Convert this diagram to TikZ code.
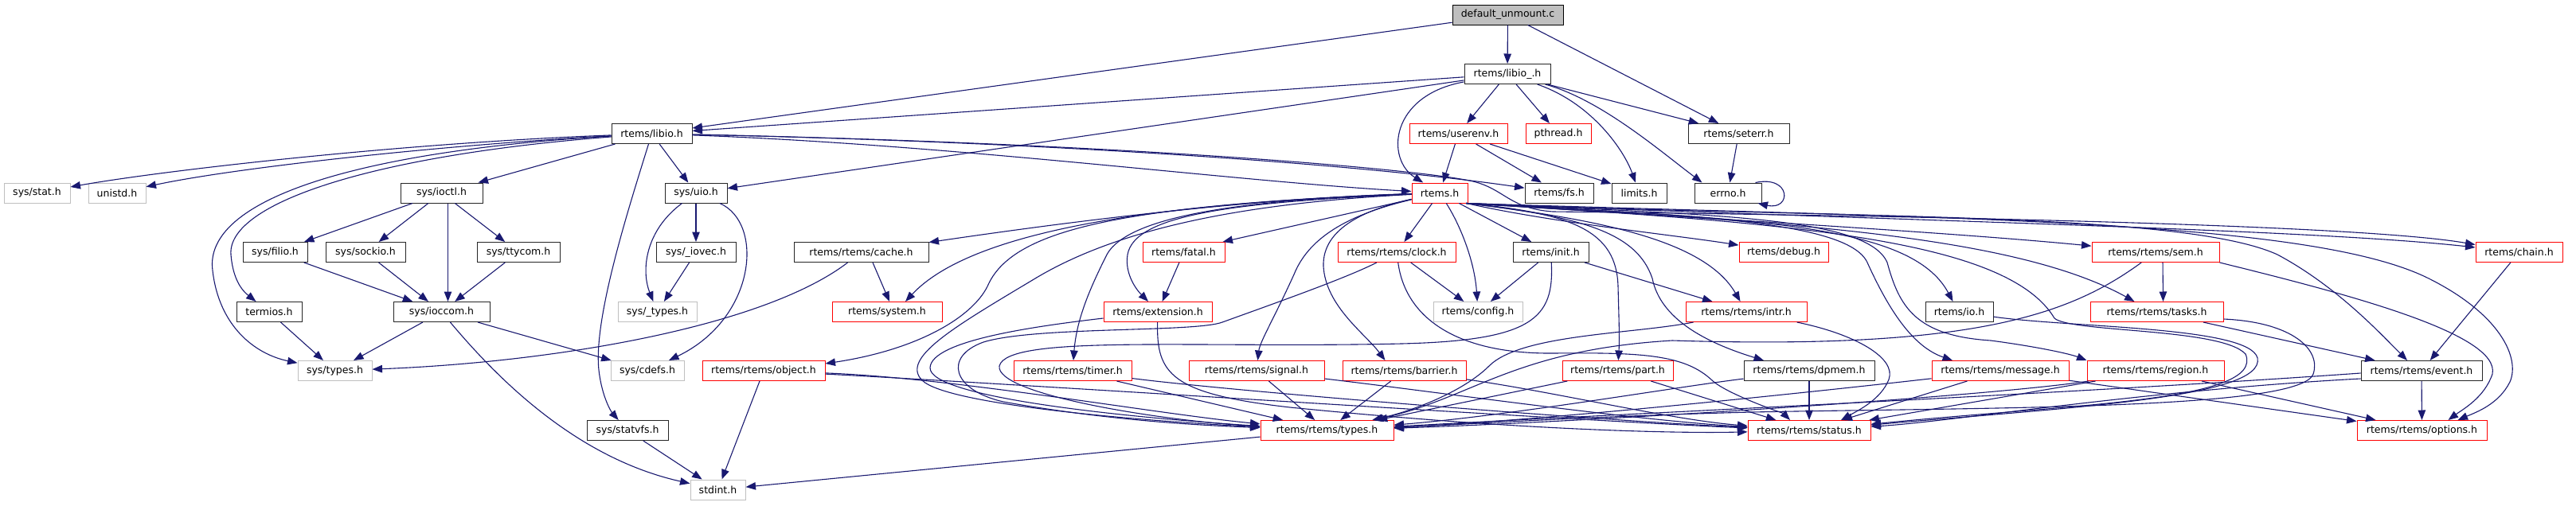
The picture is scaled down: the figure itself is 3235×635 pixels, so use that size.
\documentclass[tikz,border=0pt]{standalone}
\usepackage{fontspec}
\setmainfont{DejaVu Sans}
\usetikzlibrary{arrows.meta}
\definecolor{eblue}{HTML}{191970}
\definecolor{rred}{HTML}{FF0000}
\definecolor{ggray}{HTML}{BFBFBF}
\begin{document}
\begin{tikzpicture}[x=1pt,y=-1pt,
  nd/.style={rectangle, minimum height=25pt, inner xsep=8pt, inner ysep=0pt, line width=1pt, font=\fontsize{12.5}{15}\selectfont, text=black},
  blk/.style={nd, draw=black!85},
  rd/.style={nd, draw=rred},
  gr/.style={nd, draw=ggray},
  rootn/.style={nd, draw=black, fill=ggray},
  ed/.style={draw=eblue, line width=1.1pt, -{Triangle[length=12.5pt,width=9.5pt]}}
]
\useasboundingbox (0,0) rectangle (3235,635);
% row 0-2
\node[rootn, minimum width=139pt] (root) at (1893.5,18.5) {default\_unmount.c};
\node[blk, minimum width=108pt] (libiou) at (1893,93) {rtems/libio\_.h};
\node[blk, minimum width=101pt] (libio) at (818.5,168) {rtems/libio.h};
\node[rd, minimum width=123pt] (userenv) at (1831.5,168) {rtems/userenv.h};
\node[rd, minimum width=82pt] (pthread) at (1957,168) {pthread.h};
\node[blk, minimum width=127pt] (seterr) at (2183.5,168) {rtems/seterr.h};
% row 3
\node[gr, minimum width=83pt] (stat) at (46.5,242.5) {sys/stat.h};
\node[gr, minimum width=72pt] (unistd) at (147,242.5) {unistd.h};
\node[blk, minimum width=103pt] (ioctl) at (554.5,242.5) {sys/ioctl.h};
\node[blk, minimum width=78pt] (uio) at (874,242.5) {sys/uio.h};
\node[rd, minimum width=70pt] (rtemsh) at (1808,242.5) {rtems.h};
\node[blk, minimum width=86pt] (fs) at (1958,242.5) {rtems/fs.h};
\node[blk, minimum width=69pt] (limits) at (2058.5,242.5) {limits.h};
\node[blk, minimum width=84pt] (errno) at (2170,242.5) {errno.h};
% row 4
\node[blk, minimum width=81pt] (filio) at (345.5,317) {sys/filio.h};
\node[blk, minimum width=100pt] (sockio) at (459,317) {sys/sockio.h};
\node[blk, minimum width=104pt] (ttycom) at (651,317) {sys/ttycom.h};
\node[blk, minimum width=100pt] (iovec) at (874,317) {sys/\_iovec.h};
\node[blk, minimum width=169pt] (cache) at (1081.5,317) {rtems/rtems/cache.h};
\node[rd, minimum width=103pt] (fatal) at (1486.5,317) {rtems/fatal.h};
\node[rd, minimum width=148pt] (clock) at (1754,317) {rtems/rtems/clock.h};
\node[blk, minimum width=95pt] (init) at (1947.5,317) {rtems/init.h};
\node[rd, minimum width=112pt] (debug) at (2240,317) {rtems/debug.h};
\node[rd, minimum width=160pt] (sem) at (2707,317) {rtems/rtems/sem.h};
\node[rd, minimum width=109pt] (chain) at (3163.5,317) {rtems/chain.h};
% row 5
\node[blk, minimum width=82pt] (termios) at (338,392) {termios.h};
\node[blk, minimum width=121pt] (ioccom) at (554.5,392) {sys/ioccom.h};
\node[gr, minimum width=99pt] (stypes) at (825.5,392) {sys/\_types.h};
\node[rd, minimum width=138pt] (system) at (1114,392) {rtems/system.h};
\node[rd, minimum width=136pt] (extension) at (1454,392) {rtems/extension.h};
\node[gr, minimum width=112pt] (config) at (1856,392) {rtems/config.h};
\node[rd, minimum width=152pt] (intr) at (2193,392) {rtems/rtems/intr.h};
\node[blk, minimum width=85pt] (io) at (2460.5,392) {rtems/io.h};
\node[rd, minimum width=167pt] (tasks) at (2708.5,392) {rtems/rtems/tasks.h};
% row 6
\node[gr, minimum width=93pt] (systypes) at (420.5,466) {sys/types.h};
\node[gr, minimum width=92pt] (cdefs) at (813,466) {sys/cdefs.h};
\node[rd, minimum width=154pt] (object) at (959,466) {rtems/rtems/object.h};
\node[rd, minimum width=148pt] (timer) at (1347,466) {rtems/rtems/timer.h};
\node[rd, minimum width=170pt] (signal) at (1578,466) {rtems/rtems/signal.h};
\node[rd, minimum width=155pt] (barrier) at (1763.5,466) {rtems/rtems/barrier.h};
\node[rd, minimum width=139pt] (part) at (2031.5,466) {rtems/rtems/part.h};
\node[blk, minimum width=164pt] (dpmem) at (2272,466) {rtems/rtems/dpmem.h};
\node[rd, minimum width=172pt] (message) at (2512,466) {rtems/rtems/message.h};
\node[rd, minimum width=172pt] (region) at (2707,466) {rtems/rtems/region.h};
\node[blk, minimum width=152pt] (event) at (3041,466) {rtems/rtems/event.h};
% row 7-8
\node[blk, minimum width=102pt] (statvfs) at (788,541) {sys/statvfs.h};
\node[rd, minimum width=167pt] (rtypes) at (1666.5,541) {rtems/rtems/types.h};
\node[rd, minimum width=154pt] (status) at (2272,541) {rtems/rtems/status.h};
\node[rd, minimum width=163pt] (options) at (3041.5,541) {rtems/rtems/options.h};
\node[gr, minimum width=69pt] (stdint) at (901.5,615.5) {stdint.h};

% ---- edges ----
\draw[ed] (root) -- (libiou);
\draw[ed] (root) -- (libio);
\draw[ed] (root) -- (seterr);
\draw[ed] (libiou) -- (libio);
\draw[ed] (libiou) .. controls (1745,120) and (1740,200) .. (rtemsh);
\draw[ed] (libiou) -- (userenv);
\draw[ed] (libiou) -- (pthread);
\draw[ed] (libiou) .. controls (2000,130) and (2040,190) .. (limits);
\draw[ed] (libiou) .. controls (2010,125) and (2085,190) .. ([xshift=10pt]errno.north west);
\draw[ed] (libiou) -- (seterr);
\draw[ed] (libiou) -- (uio);
\draw[ed] (userenv) -- (rtemsh);
\draw[ed] (userenv) -- (fs);
\draw[ed] (userenv) -- (limits);
\draw[ed] (seterr) -- (errno);
\draw[ed] ([xshift=-8pt]errno.north east) .. controls (2250,220) and (2250,265) .. ([xshift=-5pt]errno.south east);
% libio
\draw[ed] (libio) .. controls (500,180) and (200,215) .. (stat);
\draw[ed] (libio) .. controls (560,182) and (300,210) .. (unistd);
\draw[ed] (libio) .. controls (450,190) and (255,250) .. (267,340) .. controls (275,410) and (320,445) .. (systypes);
\draw[ed] (libio) .. controls (470,195) and (285,255) .. (290,320) .. controls (292,345) and (300,362) .. (termios);
\draw[ed] (libio) -- (ioctl);
\draw[ed] (libio) .. controls (790,260) and (745,400) .. (752,465) .. controls (756,500) and (768,518) .. (statvfs);
\draw[ed] (libio) -- (uio);
\draw[ed] (libio) .. controls (1200,182) and (1550,228) .. (rtemsh);
\draw[ed] (libio) .. controls (1300,178) and (1700,205) .. (fs);
\draw[ed] (libio) .. controls (1400,180) and (1780,212) .. (1850,228) .. controls (1890,238) and (1895,262) .. (1950,266) .. controls (2300,270) and (2950,280) .. (chain);
% sys headers
\draw[ed] (ioctl) -- (filio);
\draw[ed] (ioctl) -- (sockio);
\draw[ed] (ioctl) -- (ttycom);
\draw[ed] ([xshift=8pt]ioctl.south) -- ([xshift=8pt]ioccom.north);
\draw[ed] (filio) -- (ioccom);
\draw[ed] (sockio) -- (ioccom);
\draw[ed] (ttycom) -- (ioccom);
\draw[ed] (termios) -- (systypes);
\draw[ed] (ioccom) -- (systypes);
\draw[ed] (ioccom) -- (cdefs);
\draw[ed] (ioccom) .. controls (620,470) and (720,575) .. (stdint);
\draw[ed] (cache) .. controls (960,410) and (700,455) .. (systypes);
\draw[ed] ([xshift=14.5pt]cache.south) -- ([xshift=3pt]system.north);
\draw[ed] (uio) -- (iovec);
\draw[ed] (uio) .. controls (810,290) and (805,340) .. (stypes);
\draw[ed] (uio) .. controls (960,280) and (950,400) .. (cdefs);
\draw[ed] (iovec) -- (stypes);
\draw[ed] (statvfs) -- (stdint);
\draw[ed] (object) -- (stdint);
\draw[ed] (rtypes) -- (stdint);
% rtems.h fan-out (left)
\draw[ed] (rtemsh) .. controls (1550,250) and (1300,285) .. (cache);
\draw[ed] (rtemsh) .. controls (1450,255) and (1220,290) .. ([xshift=23pt]system.north);
\draw[ed] (rtemsh) .. controls (1400,258) and (1270,290) .. (1240,360) .. controls (1220,400) and (1150,440) .. ([yshift=-4pt]object.north east);
\draw[ed] (rtemsh) .. controls (1550,256) and (1400,290) .. (1300,350) .. controls (1200,410) and (1130,450) .. (1158,478) .. controls (1190,510) and (1450,530) .. (rtypes);
\draw[ed] (rtemsh) .. controls (1600,250) and (1420,265) .. (1390,320) .. controls (1370,360) and (1352,400) .. (timer);
\draw[ed] (rtemsh) -- ([xshift=-3pt]fatal.north east);
\draw[ed] (rtemsh) .. controls (1560,254) and (1425,268) .. (1416,320) .. controls (1412,345) and (1428,365) .. ([xshift=-12pt]extension.north);
\draw[ed] (rtemsh) -- (clock);
\draw[ed] (rtemsh) .. controls (1700,268) and (1645,295) .. (1625,345) .. controls (1600,400) and (1582,430) .. (signal);
\draw[ed] (rtemsh) .. controls (1720,262) and (1660,285) .. (1662,335) .. controls (1665,385) and (1715,420) .. ([xshift=-24pt]barrier.north);
\draw[ed] (rtemsh) .. controls (1835,285) and (1852,330) .. (config);
\draw[ed] (rtemsh) -- (init);
% rtems.h fan-out (right, below row-3 boxes)
\draw[ed] ([xshift=-2pt]rtemsh.south east) .. controls (1975,268) and (2030,290) .. (2032,360) .. controls (2033,400) and (2034,425) .. (part);
\draw[ed] ([xshift=-2pt]rtemsh.south east) .. controls (2000,275) and (2140,300) .. (intr);
\draw[ed] ([xshift=-2pt]rtemsh.south east) .. controls (1950,280) and (2100,295) .. (debug);
\draw[ed] ([xshift=-2pt]rtemsh.south east) .. controls (1980,272) and (2055,290) .. (2075,350) .. controls (2085,400) and (2140,430) .. ([xshift=-57pt]dpmem.north);
\draw[ed] ([xshift=-2pt]rtemsh.south east) .. controls (2100,270) and (2320,275) .. (2345,330) .. controls (2370,385) and (2400,435) .. ([xshift=-60pt]message.north);
\draw[ed] ([xshift=-2pt]rtemsh.south east) .. controls (2150,270) and (2345,272) .. (2370,330) .. controls (2385,385) and (2405,422) .. (2500,428) .. controls (2560,436) and (2600,445) .. (region.north west);
\draw[ed] ([xshift=-2pt]rtemsh.south east) .. controls (2200,275) and (2400,280) .. ([xshift=-8pt]io.north);
\draw[ed] ([xshift=-2pt]rtemsh.south east) .. controls (2150,275) and (2450,292) .. (sem);
\draw[ed] ([xshift=-2pt]rtemsh.south east) .. controls (2200,278) and (2520,290) .. ([xshift=-28pt]tasks.north);
\draw[ed] ([xshift=-2pt]rtemsh.south east) .. controls (2300,275) and (2740,265) .. (2860,320) .. controls (2935,360) and (2990,420) .. ([xshift=-18pt]event.north);
\draw[ed] ([xshift=-2pt]rtemsh.south east) .. controls (2450,275) and (2900,275) .. (3050,350) .. controls (3140,395) and (3165,450) .. (3152,480) .. controls (3138,508) and (3110,518) .. ([xshift=45pt]options.north);
\draw[ed] ([xshift=-2pt]rtemsh.south east) .. controls (2400,278) and (2900,288) .. (chain);
\draw[ed] ([xshift=-2pt]rtemsh.south east) .. controls (2250,280) and (2520,300) .. (2580,400) .. controls (2600,418) and (2790,412) .. (2820,445) .. controls (2845,505) and (2600,508) .. (status);
% second level
\draw[ed] (fatal) -- (extension);
\draw[ed] (extension) .. controls (1300,410) and (1170,428) .. (1168,462) .. controls (1166,500) and (1420,525) .. (rtypes);
\draw[ed] (extension) .. controls (1452,470) and (1470,495) .. (1620,512) .. controls (1900,540) and (2100,545) .. (status);
\draw[ed] (clock) -- (config);
\draw[ed] (clock) .. controls (1690,350) and (1590,385) .. (1535,405) .. controls (1500,418) and (1300,410) .. (1235,430) .. controls (1185,448) and (1195,490) .. (1260,505) .. controls (1400,530) and (1520,535) .. (rtypes);
\draw[ed] (clock) .. controls (1765,400) and (1830,445) .. (1950,444) .. controls (2060,443) and (2115,445) .. (2150,478) .. controls (2168,495) and (2240,520) .. ([xshift=-24pt]status.north);
\draw[ed] (init) -- (config);
\draw[ed] (init) -- (intr);
\draw[ed] (init) .. controls (1952,400) and (1925,428) .. (1760,432) .. controls (1500,438) and (1265,420) .. (1255,460) .. controls (1250,495) and (1450,528) .. (rtypes);
\draw[ed] (intr) .. controls (2330,420) and (2382,450) .. (2372,477) .. controls (2362,502) and (2335,515) .. ([xshift=40pt]status.north);
\draw[ed] (intr) .. controls (2050,420) and (1910,420) .. (1870,460) .. controls (1840,490) and (1780,515) .. (rtypes);
\draw[ed] (io) .. controls (2600,412) and (2825,410) .. (2835,450) .. controls (2845,500) and (2600,512) .. (status);
\draw[ed] ([xshift=9pt]sem.south) -- ([xshift=8pt]tasks.north);
\draw[ed] (sem) .. controls (2600,395) and (2480,440) .. (2100,428) .. controls (1900,440) and (1850,500) .. (rtypes);
\draw[ed] (sem.south east) .. controls (2950,370) and (3140,420) .. (3130,470) .. controls (3120,500) and (3092,515) .. ([xshift=33pt]options.north);
\draw[ed] (tasks) -- (event);
\draw[ed] ([yshift=-9pt]tasks.east) .. controls (2880,405) and (2915,440) .. (2905,470) .. controls (2890,515) and (2500,512) .. (2200,518) .. controls (2000,523) and (1850,533) .. (rtypes);
\draw[ed] (chain) -- (event);
\draw[ed] (object) .. controls (1200,475) and (1450,520) .. (rtypes);
\draw[ed] (object) .. controls (1300,484) and (2000,530) .. (status);
\draw[ed] (timer) -- (rtypes);
\draw[ed] (timer) .. controls (1550,492) and (2000,528) .. (status);
\draw[ed] (signal) -- (rtypes);
\draw[ed] (signal) .. controls (1800,492) and (2050,528) .. (status);
\draw[ed] (barrier) -- (rtypes);
\draw[ed] (barrier) .. controls (1950,492) and (2100,528) .. (status);
\draw[ed] (part) -- (rtypes);
\draw[ed] (part) -- (status);
\draw[ed] (dpmem) -- (status);
\draw[ed] (dpmem) .. controls (2100,487) and (1900,522) .. (rtypes);
\draw[ed] (message) .. controls (2300,490) and (1950,528) .. (rtypes);
\draw[ed] (message) -- (status);
\draw[ed] (message) -- (options);
\draw[ed] (region) -- (status);
\draw[ed] (region) .. controls (2500,498) and (2000,530) .. (rtypes);
\draw[ed] (region) -- (options);
\draw[ed] (event) -- (options);
\draw[ed] ([yshift=-3pt]event.west) .. controls (2600,495) and (2000,522) .. (rtypes);
\draw[ed] ([yshift=-10pt]event.west) .. controls (2700,490) and (2450,530) .. (status);
\end{tikzpicture}
\end{document}
